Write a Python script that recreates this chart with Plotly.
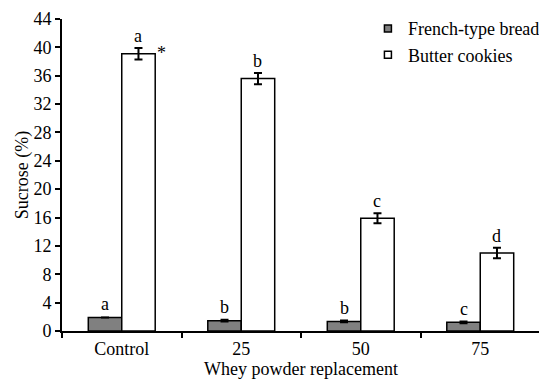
import plotly.graph_objects as go

categories = ["Control", "25", "50", "75"]
french_bread = [1.92, 1.45, 1.35, 1.22]
french_err = [0.0, 0.12, 0.12, 0.12]
butter_cookies = [39.1, 35.6, 15.9, 11.0]
butter_err = [0.8, 0.8, 0.7, 0.75]
french_letters = ["a", "b", "b", "c"]
butter_letters = ["a", "b", "c", "d"]

FONT = "Liberation Serif"
FS = 18
fig = go.Figure()

fig.add_trace(go.Bar(
    x=categories, y=french_bread, name="French-type bread", showlegend=False,
    marker=dict(color="#808080", line=dict(color="black", width=1.5)),
    error_y=dict(type="data", array=french_err, color="black", thickness=2, width=4),
))
fig.add_trace(go.Bar(
    x=categories, y=butter_cookies, name="Butter cookies", showlegend=False,
    marker=dict(color="white", line=dict(color="black", width=1.5)),
    error_y=dict(type="data", array=butter_err, color="black", thickness=2, width=4),
))
# legend entries
fig.add_trace(go.Scatter(x=[None], y=[None], mode="markers", name="French-type bread",
                         marker=dict(symbol="square", size=7, color="#808080",
                                     line=dict(color="black", width=1.5))))
fig.add_trace(go.Scatter(x=[None], y=[None], mode="markers", name="Butter cookies",
                         marker=dict(symbol="square", size=7, color="white",
                                     line=dict(color="black", width=1.5))))

annotations = []
for i in range(len(categories)):
    annotations.append(dict(x=i - 0.14, y=french_bread[i] + french_err[i], xref="x", yref="y",
                            text=french_letters[i], showarrow=False, yanchor="bottom", yshift=1,
                            font=dict(family=FONT, size=FS, color="black")))
    annotations.append(dict(x=i + 0.14, y=butter_cookies[i] + butter_err[i], xref="x", yref="y",
                            text=butter_letters[i], showarrow=False, yanchor="bottom", yshift=0,
                            font=dict(family=FONT, size=FS, color="black")))
annotations.append(dict(x=0.33, y=butter_cookies[0], xref="x", yref="y", text="*",
                        showarrow=False, yanchor="middle", yshift=1,
                        font=dict(family=FONT, size=FS, color="black")))

fig.update_layout(
    width=539, height=373,
    margin=dict(l=54, r=2, t=9, b=50),
    paper_bgcolor="white", plot_bgcolor="white",
    barmode="group", bargap=0.44, bargroupgap=0,
    font=dict(family=FONT, size=FS, color="black"),
    legend=dict(x=0.64, y=1.028,
                xanchor="left", yanchor="top",
                bgcolor="rgba(0,0,0,0)", font=dict(family=FONT, size=FS),
                itemwidth=30, tracegroupgap=0),
    annotations=annotations,
    xaxis=dict(type="category", range=[-0.5, 3.5], showline=True, linecolor="black", linewidth=2,
               ticks="outside", tickson="boundaries", ticklen=5, tickwidth=2, tickcolor="black",
               showgrid=False, zeroline=False, automargin=False,
               tickfont=dict(family=FONT, size=FS),
               title=dict(text="Whey powder replacement", standoff=0,
                          font=dict(family=FONT, size=FS))),
    yaxis=dict(range=[0, 44], dtick=4, tick0=0, showline=True, linecolor="black", linewidth=2,
               ticks="outside", ticklen=5, tickwidth=2, tickcolor="black",
               showgrid=False, zeroline=False, automargin=False,
               tickfont=dict(family=FONT, size=FS),
               title=dict(text="Sucrose (%)", standoff=0,
                          font=dict(family=FONT, size=FS))),
)

fig.write_html("out.html")
